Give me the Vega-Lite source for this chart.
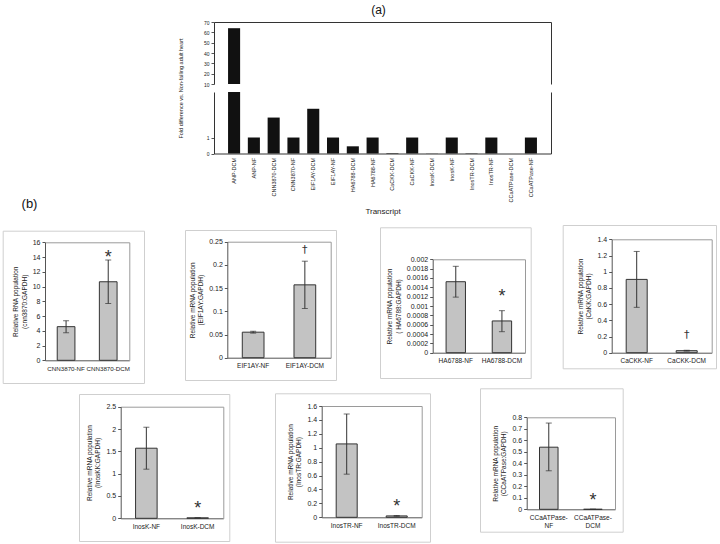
{
  "$schema": "https://vega.github.io/schema/vega-lite/v6.json",
  "width": 720,
  "height": 544,
  "autosize": "none",
  "padding": 0,
  "background": "white",
  "config": {
    "font": "Liberation Sans",
    "view": {"stroke": null},
    "axis": {"grid": false, "labelOverlap": false, "labelColor": "#222", "titleColor": "#222", "titleFontWeight": "normal", "domainColor": "#555", "tickColor": "#555", "tickSize": 3, "labelPadding": 2}
  },
  "datasets": {
    "frame": [{"f": 0}],
    "overview": [
      {"cat": "ANP-DCM", "value": 64},
      {"cat": "ANP-NF", "value": 1},
      {"cat": "CNN3870-DCM", "value": 2.25},
      {"cat": "CNN3870-NF", "value": 1},
      {"cat": "EIF1AY-DCM", "value": 2.8},
      {"cat": "EIF1AY-NF", "value": 1},
      {"cat": "HA6788-DCM", "value": 0.45},
      {"cat": "HA6788-NF", "value": 1},
      {"cat": "CaCKK-DCM", "value": 0.03},
      {"cat": "CaCKK-NF", "value": 1},
      {"cat": "InosK-DCM", "value": 0.01},
      {"cat": "InosK-NF", "value": 1},
      {"cat": "InosTR-DCM", "value": 0.02},
      {"cat": "InosTR-NF", "value": 1},
      {"cat": "CCaATPase-DCM", "value": 0.005},
      {"cat": "CCaATPase-NF", "value": 1}
    ],
    "bars": [
      {"panel": "cnn", "cat": "CNN3870-NF", "value": 4.56, "lo": 3.74, "hi": 5.37, "sig": ""},
      {"panel": "cnn", "cat": "CNN3870-DCM", "value": 10.65, "lo": 7.7, "hi": 13.6, "sig": "*"},
      {"panel": "eif", "cat": "EIF1AY-NF", "value": 0.055, "lo": 0.053, "hi": 0.057, "sig": ""},
      {"panel": "eif", "cat": "EIF1AY-DCM", "value": 0.157, "lo": 0.106, "hi": 0.208, "sig": "†"},
      {"panel": "ha", "cat": "HA6788-NF", "value": 0.00152, "lo": 0.00119, "hi": 0.00185, "sig": ""},
      {"panel": "ha", "cat": "HA6788-DCM", "value": 0.00068, "lo": 0.00045, "hi": 0.0009, "sig": "*"},
      {"panel": "cackk", "cat": "CaCKK-NF", "value": 0.905, "lo": 0.56, "hi": 1.25, "sig": ""},
      {"panel": "cackk", "cat": "CaCKK-DCM", "value": 0.025, "lo": 0.02, "hi": 0.03, "sig": "†"},
      {"panel": "inosk", "cat": "InosK-NF", "value": 1.57, "lo": 1.1, "hi": 2.04, "sig": ""},
      {"panel": "inosk", "cat": "InosK-DCM", "value": 0.01, "lo": 0.01, "hi": 0.01, "sig": "*"},
      {"panel": "inostr", "cat": "InosTR-NF", "value": 1.055, "lo": 0.62, "hi": 1.485, "sig": ""},
      {"panel": "inostr", "cat": "InosTR-DCM", "value": 0.02, "lo": 0.015, "hi": 0.025, "sig": "*"},
      {"panel": "ccaatp", "cat": "CCaATPase-NF", "value": 0.54, "lo": 0.335, "hi": 0.75, "sig": ""},
      {"panel": "ccaatp", "cat": "CCaATPase-DCM", "value": 0, "lo": 0, "hi": 0, "sig": "*"}
    ]
  },
  "layer": [
    {"data": {"name": "frame"}, "layer": [
      {"mark": {"type": "point", "opacity": 0}, "encoding": {
        "x": {"field": "f", "type": "quantitative", "scale": {"domain": [0, 1], "range": [2.7, 144]}, "axis": {"orient": "top", "offset": -230.7, "labels": false, "ticks": false, "title": null, "domainColor": "#cfcfcf"}},
        "y": {"field": "f", "type": "quantitative", "scale": {"domain": [0, 1], "range": [383, 230.7]}, "axis": {"orient": "left", "offset": -2.7, "labels": false, "ticks": false, "title": null, "domainColor": "#cfcfcf"}}}},
      {"mark": {"type": "point", "opacity": 0}, "encoding": {
        "x": {"field": "f", "type": "quantitative", "axis": {"orient": "bottom", "offset": -161, "labels": false, "ticks": false, "title": null, "domainColor": "#cfcfcf"}},
        "y": {"field": "f", "type": "quantitative", "axis": {"orient": "right", "offset": -576, "labels": false, "ticks": false, "title": null, "domainColor": "#cfcfcf"}}}}
    ], "resolve": {"axis": {"x": "independent", "y": "independent"}}},
    {"data": {"name": "frame"}, "layer": [
      {"mark": {"type": "point", "opacity": 0}, "encoding": {
        "x": {"field": "f", "type": "quantitative", "scale": {"domain": [0, 1], "range": [185, 336]}, "axis": {"orient": "top", "offset": -230, "labels": false, "ticks": false, "title": null, "domainColor": "#cfcfcf"}},
        "y": {"field": "f", "type": "quantitative", "scale": {"domain": [0, 1], "range": [380, 230]}, "axis": {"orient": "left", "offset": -185, "labels": false, "ticks": false, "title": null, "domainColor": "#cfcfcf"}}}},
      {"mark": {"type": "point", "opacity": 0}, "encoding": {
        "x": {"field": "f", "type": "quantitative", "axis": {"orient": "bottom", "offset": -164, "labels": false, "ticks": false, "title": null, "domainColor": "#cfcfcf"}},
        "y": {"field": "f", "type": "quantitative", "axis": {"orient": "right", "offset": -384, "labels": false, "ticks": false, "title": null, "domainColor": "#cfcfcf"}}}}
    ], "resolve": {"axis": {"x": "independent", "y": "independent"}}},
    {"data": {"name": "frame"}, "layer": [
      {"mark": {"type": "point", "opacity": 0}, "encoding": {
        "x": {"field": "f", "type": "quantitative", "scale": {"domain": [0, 1], "range": [380, 530.7]}, "axis": {"orient": "top", "offset": -227.3, "labels": false, "ticks": false, "title": null, "domainColor": "#cfcfcf"}},
        "y": {"field": "f", "type": "quantitative", "scale": {"domain": [0, 1], "range": [378, 227.3]}, "axis": {"orient": "left", "offset": -380, "labels": false, "ticks": false, "title": null, "domainColor": "#cfcfcf"}}}},
      {"mark": {"type": "point", "opacity": 0}, "encoding": {
        "x": {"field": "f", "type": "quantitative", "axis": {"orient": "bottom", "offset": -166, "labels": false, "ticks": false, "title": null, "domainColor": "#cfcfcf"}},
        "y": {"field": "f", "type": "quantitative", "axis": {"orient": "right", "offset": -189.3, "labels": false, "ticks": false, "title": null, "domainColor": "#cfcfcf"}}}}
    ], "resolve": {"axis": {"x": "independent", "y": "independent"}}},
    {"data": {"name": "frame"}, "layer": [
      {"mark": {"type": "point", "opacity": 0}, "encoding": {
        "x": {"field": "f", "type": "quantitative", "scale": {"domain": [0, 1], "range": [562.7, 716]}, "axis": {"orient": "top", "offset": -225, "labels": false, "ticks": false, "title": null, "domainColor": "#cfcfcf"}},
        "y": {"field": "f", "type": "quantitative", "scale": {"domain": [0, 1], "range": [368.3, 225]}, "axis": {"orient": "left", "offset": -562.7, "labels": false, "ticks": false, "title": null, "domainColor": "#cfcfcf"}}}},
      {"mark": {"type": "point", "opacity": 0}, "encoding": {
        "x": {"field": "f", "type": "quantitative", "axis": {"orient": "bottom", "offset": -175.7, "labels": false, "ticks": false, "title": null, "domainColor": "#cfcfcf"}},
        "y": {"field": "f", "type": "quantitative", "axis": {"orient": "right", "offset": -4, "labels": false, "ticks": false, "title": null, "domainColor": "#cfcfcf"}}}}
    ], "resolve": {"axis": {"x": "independent", "y": "independent"}}},
    {"data": {"name": "frame"}, "layer": [
      {"mark": {"type": "point", "opacity": 0}, "encoding": {
        "x": {"field": "f", "type": "quantitative", "scale": {"domain": [0, 1], "range": [79, 229.3]}, "axis": {"orient": "top", "offset": -394, "labels": false, "ticks": false, "title": null, "domainColor": "#cfcfcf"}},
        "y": {"field": "f", "type": "quantitative", "scale": {"domain": [0, 1], "range": [541, 394]}, "axis": {"orient": "left", "offset": -79, "labels": false, "ticks": false, "title": null, "domainColor": "#cfcfcf"}}}},
      {"mark": {"type": "point", "opacity": 0}, "encoding": {
        "x": {"field": "f", "type": "quantitative", "axis": {"orient": "bottom", "offset": -3, "labels": false, "ticks": false, "title": null, "domainColor": "#cfcfcf"}},
        "y": {"field": "f", "type": "quantitative", "axis": {"orient": "right", "offset": -490.7, "labels": false, "ticks": false, "title": null, "domainColor": "#cfcfcf"}}}}
    ], "resolve": {"axis": {"x": "independent", "y": "independent"}}},
    {"data": {"name": "frame"}, "layer": [
      {"mark": {"type": "point", "opacity": 0}, "encoding": {
        "x": {"field": "f", "type": "quantitative", "scale": {"domain": [0, 1], "range": [275, 430]}, "axis": {"orient": "top", "offset": -393.3, "labels": false, "ticks": false, "title": null, "domainColor": "#cfcfcf"}},
        "y": {"field": "f", "type": "quantitative", "scale": {"domain": [0, 1], "range": [541.7, 393.3]}, "axis": {"orient": "left", "offset": -275, "labels": false, "ticks": false, "title": null, "domainColor": "#cfcfcf"}}}},
      {"mark": {"type": "point", "opacity": 0}, "encoding": {
        "x": {"field": "f", "type": "quantitative", "axis": {"orient": "bottom", "offset": -2.3, "labels": false, "ticks": false, "title": null, "domainColor": "#cfcfcf"}},
        "y": {"field": "f", "type": "quantitative", "axis": {"orient": "right", "offset": -290, "labels": false, "ticks": false, "title": null, "domainColor": "#cfcfcf"}}}}
    ], "resolve": {"axis": {"x": "independent", "y": "independent"}}},
    {"data": {"name": "frame"}, "layer": [
      {"mark": {"type": "point", "opacity": 0}, "encoding": {
        "x": {"field": "f", "type": "quantitative", "scale": {"domain": [0, 1], "range": [480, 622.7]}, "axis": {"orient": "top", "offset": -388.3, "labels": false, "ticks": false, "title": null, "domainColor": "#cfcfcf"}},
        "y": {"field": "f", "type": "quantitative", "scale": {"domain": [0, 1], "range": [531.7, 388.3]}, "axis": {"orient": "left", "offset": -480, "labels": false, "ticks": false, "title": null, "domainColor": "#cfcfcf"}}}},
      {"mark": {"type": "point", "opacity": 0}, "encoding": {
        "x": {"field": "f", "type": "quantitative", "axis": {"orient": "bottom", "offset": -12.3, "labels": false, "ticks": false, "title": null, "domainColor": "#cfcfcf"}},
        "y": {"field": "f", "type": "quantitative", "axis": {"orient": "right", "offset": -97.3, "labels": false, "ticks": false, "title": null, "domainColor": "#cfcfcf"}}}}
    ], "resolve": {"axis": {"x": "independent", "y": "independent"}}},
    {
      "data": {"name": "overview"},
      "layer": [
        {
          "mark": {"type": "bar", "color": "#111"},
          "encoding": {
            "x": {"field": "cat", "type": "nominal", "sort": null, "scale": {"range": [214, 551], "paddingInner": 0.39, "paddingOuter": 0.71}, "axis": null},
            "y": {"field": "value", "type": "quantitative", "scale": {"domain": [10, 70], "range": [84, 22], "zero": false, "nice": false, "clamp": true},
              "axis": {"orient": "left", "offset": -214, "values": [10, 20, 30, 40, 50, 60, 70], "format": "d", "labelFontSize": 5, "title": null, "domainColor": "#333"}}
          }
        },
        {
          "mark": {"type": "bar", "opacity": 0},
          "encoding": {
            "x": {"field": "cat", "type": "nominal", "sort": null,
              "axis": {"orient": "top", "offset": -22, "labels": false, "ticks": false, "domainColor": "#333", "title": "(a)", "titleFontSize": 12, "titleColor": "#111", "titleX": 378, "titleY": -6}},
            "y": {"field": "value", "type": "quantitative",
              "axis": {"orient": "right", "offset": -169, "labels": false, "ticks": false, "title": null, "domainColor": "#333"}}
          }
        }
      ],
      "resolve": {"axis": {"x": "independent", "y": "independent"}}
    },
    {
      "data": {"name": "overview"},
      "layer": [
        {
          "mark": {"type": "bar", "color": "#111"},
          "encoding": {
            "x": {"field": "cat", "type": "nominal", "sort": null, "scale": {"range": [214, 551], "paddingInner": 0.39, "paddingOuter": 0.71},
              "axis": {"orient": "bottom", "offset": -390.5, "labelAngle": -90, "labelFontSize": 5.5, "ticks": false, "labelPadding": 4, "domainColor": "#333", "title": "Transcript", "titleFontSize": 8, "titleY": 54, "titleBaseline": "top"}},
            "y": {"field": "value", "type": "quantitative", "scale": {"domain": [0, 3.85], "range": [153.5, 92], "nice": false, "clamp": true},
              "axis": {"orient": "left", "offset": -214, "values": [0, 1], "format": "d", "labelFontSize": 5, "domainColor": "#333", "title": "Fold difference vs. Non-failing adult heart", "titleFontSize": 5.5, "titleX": -31, "titleY": 88}}
          }
        },
        {
          "mark": {"type": "bar", "opacity": 0},
          "encoding": {
            "x": {"field": "cat", "type": "nominal", "sort": null, "axis": null},
            "y": {"field": "value", "type": "quantitative",
              "axis": {"orient": "right", "offset": -169, "labels": false, "ticks": false, "title": null, "domainColor": "#333"}}
          }
        }
      ],
      "resolve": {"axis": {"x": "independent", "y": "independent"}}
    },
    {
      "data": {"name": "bars"},
      "transform": [{"filter": "datum.panel == 'cnn'"}],
      "layer": [
        {"mark": {"type": "bar", "color": "#c3c3c3", "stroke": "#333", "strokeWidth": 1},
          "encoding": {
            "x": {"field": "cat", "type": "nominal", "sort": null, "scale": {"range": [45, 129.3], "paddingInner": 0.58, "paddingOuter": 0.29},
              "axis": {"orient": "bottom", "offset": -183.7, "title": null, "labelAngle": 0, "ticks": false, "labelFontSize": 6.2, "labelPadding": 5}},
            "y": {"field": "value", "type": "quantitative", "scale": {"domain": [0, 16], "range": [360.3, 242.3], "nice": false},
              "axis": {"orient": "left", "offset": -45, "values": [0, 2, 4, 6, 8, 10, 12, 14, 16], "format": "d", "labelFontSize": 7, "titleFontSize": 6.5, "titlePadding": 5, "title": ["Relative RNA population", "(cnn3870:GAPDH)"]}}
          }},
        {"mark": {"type": "bar", "opacity": 0},
          "encoding": {
            "x": {"field": "cat", "type": "nominal", "sort": null, "axis": {"orient": "top", "offset": -242.3, "labels": false, "ticks": false, "domainColor": "#9a9a9a", "title": "(b)", "titleFontSize": 13, "titleColor": "#111", "titleX": 29, "titleY": -32}},
            "y": {"field": "value", "type": "quantitative", "axis": {"orient": "right", "offset": -590.7, "labels": false, "ticks": false, "title": null, "domainColor": "#9a9a9a"}}
          }},
        {"mark": {"type": "rule", "color": "#333"}, "encoding": {"x": {"field": "cat", "type": "nominal", "sort": null, "axis": null}, "y": {"field": "lo", "type": "quantitative", "axis": null}, "y2": {"field": "hi"}}},
        {"mark": {"type": "tick", "color": "#333", "size": 6, "thickness": 1}, "encoding": {"x": {"field": "cat", "type": "nominal", "sort": null, "axis": null}, "y": {"field": "lo", "type": "quantitative", "axis": null}}},
        {"mark": {"type": "tick", "color": "#333", "size": 6, "thickness": 1}, "encoding": {"x": {"field": "cat", "type": "nominal", "sort": null, "axis": null}, "y": {"field": "hi", "type": "quantitative", "axis": null}}},
        {"transform": [{"filter": "datum.sig != ''"}], "mark": {"type": "text", "fontSize": 18, "dy": 3.4, "baseline": "alphabetic", "color": "#333"},
          "encoding": {"x": {"field": "cat", "type": "nominal", "sort": null, "axis": null}, "y": {"field": "hi", "type": "quantitative", "axis": null}, "text": {"field": "sig"}}}
      ],
      "resolve": {"axis": {"x": "independent", "y": "independent"}}
    },
    {
      "data": {"name": "bars"},
      "transform": [{"filter": "datum.panel == 'eif'"}],
      "layer": [
        {"mark": {"type": "bar", "color": "#c3c3c3", "stroke": "#333", "strokeWidth": 1},
          "encoding": {
            "x": {"field": "cat", "type": "nominal", "sort": null, "scale": {"range": [227.3, 330.7], "paddingInner": 0.58, "paddingOuter": 0.29},
              "axis": {"orient": "bottom", "offset": -186.3, "title": null, "labelAngle": 0, "ticks": false, "labelFontSize": 6.5, "labelPadding": 5}},
            "y": {"field": "value", "type": "quantitative", "scale": {"domain": [0, 0.25], "range": [357.7, 241.7], "nice": false},
              "axis": {"orient": "left", "offset": -227.3, "values": [0, 0.05, 0.1, 0.15, 0.2, 0.25], "format": ".2~f", "labelFontSize": 7, "titleFontSize": 6.5, "titlePadding": 5, "title": ["Relative mRNA population", "(EIF1AY:GAPDH)"]}}
          }},
        {"mark": {"type": "bar", "opacity": 0},
          "encoding": {
            "x": {"field": "cat", "type": "nominal", "sort": null, "axis": {"orient": "top", "offset": -241.7, "labels": false, "ticks": false, "title": null, "domainColor": "#9a9a9a"}},
            "y": {"field": "value", "type": "quantitative", "axis": {"orient": "right", "offset": -389.3, "labels": false, "ticks": false, "title": null, "domainColor": "#9a9a9a"}}
          }},
        {"mark": {"type": "rule", "color": "#333"}, "encoding": {"x": {"field": "cat", "type": "nominal", "sort": null, "axis": null}, "y": {"field": "lo", "type": "quantitative", "axis": null}, "y2": {"field": "hi"}}},
        {"mark": {"type": "tick", "color": "#333", "size": 6, "thickness": 1}, "encoding": {"x": {"field": "cat", "type": "nominal", "sort": null, "axis": null}, "y": {"field": "lo", "type": "quantitative", "axis": null}}},
        {"mark": {"type": "tick", "color": "#333", "size": 6, "thickness": 1}, "encoding": {"x": {"field": "cat", "type": "nominal", "sort": null, "axis": null}, "y": {"field": "hi", "type": "quantitative", "axis": null}}},
        {"transform": [{"filter": "datum.sig != ''"}], "mark": {"type": "text", "fontSize": 11, "font": "DejaVu Sans", "dy": -7.8, "baseline": "alphabetic", "color": "#333"},
          "encoding": {"x": {"field": "cat", "type": "nominal", "sort": null, "axis": null}, "y": {"field": "hi", "type": "quantitative", "axis": null}, "text": {"field": "sig"}}}
      ],
      "resolve": {"axis": {"x": "independent", "y": "independent"}}
    },
    {
      "data": {"name": "bars"},
      "transform": [{"filter": "datum.panel == 'ha'"}],
      "layer": [
        {"mark": {"type": "bar", "color": "#c3c3c3", "stroke": "#333", "strokeWidth": 1},
          "encoding": {
            "x": {"field": "cat", "type": "nominal", "sort": null, "scale": {"range": [432.7, 525], "paddingInner": 0.58, "paddingOuter": 0.29},
              "axis": {"orient": "bottom", "offset": -191.3, "title": null, "labelAngle": 0, "ticks": false, "labelFontSize": 6.5, "labelPadding": 5}},
            "y": {"field": "value", "type": "quantitative", "scale": {"domain": [0, 0.002], "range": [352.7, 259.3], "nice": false},
              "axis": {"orient": "left", "offset": -432.7, "values": [0, 0.0002, 0.0004, 0.0006, 0.0008, 0.001, 0.0012, 0.0014, 0.0016, 0.0018, 0.002], "format": ".4~f", "labelFontSize": 7, "titleFontSize": 6.5, "titlePadding": 5, "title": ["Relative mRNA population", "( HA6788:GAPDH)"]}}
          }},
        {"mark": {"type": "bar", "opacity": 0},
          "encoding": {
            "x": {"field": "cat", "type": "nominal", "sort": null, "axis": {"orient": "top", "offset": -259.3, "labels": false, "ticks": false, "title": null, "domainColor": "#9a9a9a"}},
            "y": {"field": "value", "type": "quantitative", "axis": {"orient": "right", "offset": -195, "labels": false, "ticks": false, "title": null, "domainColor": "#9a9a9a"}}
          }},
        {"mark": {"type": "rule", "color": "#333"}, "encoding": {"x": {"field": "cat", "type": "nominal", "sort": null, "axis": null}, "y": {"field": "lo", "type": "quantitative", "axis": null}, "y2": {"field": "hi"}}},
        {"mark": {"type": "tick", "color": "#333", "size": 6, "thickness": 1}, "encoding": {"x": {"field": "cat", "type": "nominal", "sort": null, "axis": null}, "y": {"field": "lo", "type": "quantitative", "axis": null}}},
        {"mark": {"type": "tick", "color": "#333", "size": 6, "thickness": 1}, "encoding": {"x": {"field": "cat", "type": "nominal", "sort": null, "axis": null}, "y": {"field": "hi", "type": "quantitative", "axis": null}}},
        {"transform": [{"filter": "datum.sig != ''"}], "mark": {"type": "text", "fontSize": 18, "dy": -8.6, "baseline": "alphabetic", "color": "#333"},
          "encoding": {"x": {"field": "cat", "type": "nominal", "sort": null, "axis": null}, "y": {"field": "hi", "type": "quantitative", "axis": null}, "text": {"field": "sig"}}}
      ],
      "resolve": {"axis": {"x": "independent", "y": "independent"}}
    },
    {
      "data": {"name": "bars"},
      "transform": [{"filter": "datum.panel == 'cackk'"}],
      "layer": [
        {"mark": {"type": "bar", "color": "#c3c3c3", "stroke": "#333", "strokeWidth": 1},
          "encoding": {
            "x": {"field": "cat", "type": "nominal", "sort": null, "scale": {"range": [611.7, 711.7], "paddingInner": 0.58, "paddingOuter": 0.29},
              "axis": {"orient": "bottom", "offset": -191.3, "title": null, "labelAngle": 0, "ticks": false, "labelFontSize": 6.5, "labelPadding": 5}},
            "y": {"field": "value", "type": "quantitative", "scale": {"domain": [0, 1.4], "range": [352.7, 239.3], "nice": false},
              "axis": {"orient": "left", "offset": -611.7, "values": [0, 0.2, 0.4, 0.6, 0.8, 1, 1.2, 1.4], "format": ".1~f", "labelFontSize": 7, "titleFontSize": 6.5, "titlePadding": 5, "title": ["Relative mRNA population", "(CaKK:GAPDH)"]}}
          }},
        {"mark": {"type": "bar", "opacity": 0},
          "encoding": {
            "x": {"field": "cat", "type": "nominal", "sort": null, "axis": {"orient": "top", "offset": -239.3, "labels": false, "ticks": false, "title": null, "domainColor": "#9a9a9a"}},
            "y": {"field": "value", "type": "quantitative", "axis": {"orient": "right", "offset": -8.3, "labels": false, "ticks": false, "title": null, "domainColor": "#9a9a9a"}}
          }},
        {"mark": {"type": "rule", "color": "#333"}, "encoding": {"x": {"field": "cat", "type": "nominal", "sort": null, "axis": null}, "y": {"field": "lo", "type": "quantitative", "axis": null}, "y2": {"field": "hi"}}},
        {"mark": {"type": "tick", "color": "#333", "size": 6, "thickness": 1}, "encoding": {"x": {"field": "cat", "type": "nominal", "sort": null, "axis": null}, "y": {"field": "lo", "type": "quantitative", "axis": null}}},
        {"mark": {"type": "tick", "color": "#333", "size": 6, "thickness": 1}, "encoding": {"x": {"field": "cat", "type": "nominal", "sort": null, "axis": null}, "y": {"field": "hi", "type": "quantitative", "axis": null}}},
        {"transform": [{"filter": "datum.sig != ''"}], "mark": {"type": "text", "fontSize": 11, "font": "DejaVu Sans", "dy": -12.5, "baseline": "alphabetic", "color": "#333"},
          "encoding": {"x": {"field": "cat", "type": "nominal", "sort": null, "axis": null}, "y": {"field": "hi", "type": "quantitative", "axis": null}, "text": {"field": "sig"}}}
      ],
      "resolve": {"axis": {"x": "independent", "y": "independent"}}
    },
    {
      "data": {"name": "bars"},
      "transform": [{"filter": "datum.panel == 'inosk'"}],
      "layer": [
        {"mark": {"type": "bar", "color": "#c3c3c3", "stroke": "#333", "strokeWidth": 1},
          "encoding": {
            "x": {"field": "cat", "type": "nominal", "sort": null, "scale": {"range": [120.7, 223.3], "paddingInner": 0.58, "paddingOuter": 0.29},
              "axis": {"orient": "bottom", "offset": -25.7, "title": null, "labelAngle": 0, "ticks": false, "labelFontSize": 6.5, "labelPadding": 5}},
            "y": {"field": "value", "type": "quantitative", "scale": {"domain": [0, 2.5], "range": [518.3, 406.7], "nice": false},
              "axis": {"orient": "left", "offset": -120.7, "values": [0, 0.5, 1, 1.5, 2, 2.5], "format": ".1~f", "labelFontSize": 7, "titleFontSize": 6.5, "titlePadding": 5, "title": ["Relative mRNA population", "(InosKK:GAPDH)"]}}
          }},
        {"mark": {"type": "bar", "opacity": 0},
          "encoding": {
            "x": {"field": "cat", "type": "nominal", "sort": null, "axis": {"orient": "top", "offset": -406.7, "labels": false, "ticks": false, "title": null, "domainColor": "#9a9a9a"}},
            "y": {"field": "value", "type": "quantitative", "axis": {"orient": "right", "offset": -496.7, "labels": false, "ticks": false, "title": null, "domainColor": "#9a9a9a"}}
          }},
        {"mark": {"type": "rule", "color": "#333"}, "encoding": {"x": {"field": "cat", "type": "nominal", "sort": null, "axis": null}, "y": {"field": "lo", "type": "quantitative", "axis": null}, "y2": {"field": "hi"}}},
        {"mark": {"type": "tick", "color": "#333", "size": 6, "thickness": 1}, "encoding": {"x": {"field": "cat", "type": "nominal", "sort": null, "axis": null}, "y": {"field": "lo", "type": "quantitative", "axis": null}}},
        {"mark": {"type": "tick", "color": "#333", "size": 6, "thickness": 1}, "encoding": {"x": {"field": "cat", "type": "nominal", "sort": null, "axis": null}, "y": {"field": "hi", "type": "quantitative", "axis": null}}},
        {"transform": [{"filter": "datum.sig != ''"}], "mark": {"type": "text", "fontSize": 18, "dy": -3.6, "baseline": "alphabetic", "color": "#333"},
          "encoding": {"x": {"field": "cat", "type": "nominal", "sort": null, "axis": null}, "y": {"field": "hi", "type": "quantitative", "axis": null}, "text": {"field": "sig"}}}
      ],
      "resolve": {"axis": {"x": "independent", "y": "independent"}}
    },
    {
      "data": {"name": "bars"},
      "transform": [{"filter": "datum.panel == 'inostr'"}],
      "layer": [
        {"mark": {"type": "bar", "color": "#c3c3c3", "stroke": "#333", "strokeWidth": 1},
          "encoding": {
            "x": {"field": "cat", "type": "nominal", "sort": null, "scale": {"range": [321.7, 421.7], "paddingInner": 0.58, "paddingOuter": 0.29},
              "axis": {"orient": "bottom", "offset": -26.7, "title": null, "labelAngle": 0, "ticks": false, "labelFontSize": 6.5, "labelPadding": 5}},
            "y": {"field": "value", "type": "quantitative", "scale": {"domain": [0, 1.6], "range": [517.3, 406], "nice": false},
              "axis": {"orient": "left", "offset": -321.7, "values": [0, 0.2, 0.4, 0.6, 0.8, 1, 1.2, 1.4, 1.6], "format": ".1~f", "labelFontSize": 7, "titleFontSize": 6.5, "titlePadding": 5, "title": ["Relative mRNA population", "(InosTR:GAPDH)"]}}
          }},
        {"mark": {"type": "bar", "opacity": 0},
          "encoding": {
            "x": {"field": "cat", "type": "nominal", "sort": null, "axis": {"orient": "top", "offset": -406, "labels": false, "ticks": false, "title": null, "domainColor": "#9a9a9a"}},
            "y": {"field": "value", "type": "quantitative", "axis": {"orient": "right", "offset": -298.3, "labels": false, "ticks": false, "title": null, "domainColor": "#9a9a9a"}}
          }},
        {"mark": {"type": "rule", "color": "#333"}, "encoding": {"x": {"field": "cat", "type": "nominal", "sort": null, "axis": null}, "y": {"field": "lo", "type": "quantitative", "axis": null}, "y2": {"field": "hi"}}},
        {"mark": {"type": "tick", "color": "#333", "size": 6, "thickness": 1}, "encoding": {"x": {"field": "cat", "type": "nominal", "sort": null, "axis": null}, "y": {"field": "lo", "type": "quantitative", "axis": null}}},
        {"mark": {"type": "tick", "color": "#333", "size": 6, "thickness": 1}, "encoding": {"x": {"field": "cat", "type": "nominal", "sort": null, "axis": null}, "y": {"field": "hi", "type": "quantitative", "axis": null}}},
        {"transform": [{"filter": "datum.sig != ''"}], "mark": {"type": "text", "fontSize": 18, "dy": -3.6, "baseline": "alphabetic", "color": "#333"},
          "encoding": {"x": {"field": "cat", "type": "nominal", "sort": null, "axis": null}, "y": {"field": "hi", "type": "quantitative", "axis": null}, "text": {"field": "sig"}}}
      ],
      "resolve": {"axis": {"x": "independent", "y": "independent"}}
    },
    {
      "data": {"name": "bars"},
      "transform": [{"filter": "datum.panel == 'ccaatp'"}],
      "layer": [
        {"mark": {"type": "bar", "color": "#c3c3c3", "stroke": "#333", "strokeWidth": 1},
          "encoding": {
            "x": {"field": "cat", "type": "nominal", "sort": null, "scale": {"range": [526.7, 615], "paddingInner": 0.58, "paddingOuter": 0.29},
              "axis": {"orient": "bottom", "offset": -34.7, "title": null, "labelAngle": 0, "ticks": false, "labelFontSize": 6.5, "labelPadding": 5, "labelExpr": "[slice(datum.label, 0, 10), slice(datum.label, 10)]"}},
            "y": {"field": "value", "type": "quantitative", "scale": {"domain": [0, 0.8], "range": [509.3, 417.3], "nice": false},
              "axis": {"orient": "left", "offset": -526.7, "values": [0, 0.1, 0.2, 0.3, 0.4, 0.5, 0.6, 0.7, 0.8], "format": ".1~f", "labelFontSize": 7, "titleFontSize": 6.5, "titlePadding": 5, "title": ["Relative mRNA population", "(CCaATPase:GAPDH)"]}}
          }},
        {"mark": {"type": "bar", "opacity": 0},
          "encoding": {
            "x": {"field": "cat", "type": "nominal", "sort": null, "axis": {"orient": "top", "offset": -417.3, "labels": false, "ticks": false, "title": null, "domainColor": "#9a9a9a"}},
            "y": {"field": "value", "type": "quantitative", "axis": {"orient": "right", "offset": -105, "labels": false, "ticks": false, "title": null, "domainColor": "#9a9a9a"}}
          }},
        {"mark": {"type": "rule", "color": "#333"}, "encoding": {"x": {"field": "cat", "type": "nominal", "sort": null, "axis": null}, "y": {"field": "lo", "type": "quantitative", "axis": null}, "y2": {"field": "hi"}}},
        {"mark": {"type": "tick", "color": "#333", "size": 6, "thickness": 1}, "encoding": {"x": {"field": "cat", "type": "nominal", "sort": null, "axis": null}, "y": {"field": "lo", "type": "quantitative", "axis": null}}},
        {"mark": {"type": "tick", "color": "#333", "size": 6, "thickness": 1}, "encoding": {"x": {"field": "cat", "type": "nominal", "sort": null, "axis": null}, "y": {"field": "hi", "type": "quantitative", "axis": null}}},
        {"transform": [{"filter": "datum.sig != ''"}], "mark": {"type": "text", "fontSize": 18, "dy": -3.6, "baseline": "alphabetic", "color": "#333"},
          "encoding": {"x": {"field": "cat", "type": "nominal", "sort": null, "axis": null}, "y": {"field": "hi", "type": "quantitative", "axis": null}, "text": {"field": "sig"}}}
      ],
      "resolve": {"axis": {"x": "independent", "y": "independent"}}
    }
  ],
  "resolve": {"scale": {"x": "independent", "y": "independent"}, "axis": {"x": "independent", "y": "independent"}}
}
